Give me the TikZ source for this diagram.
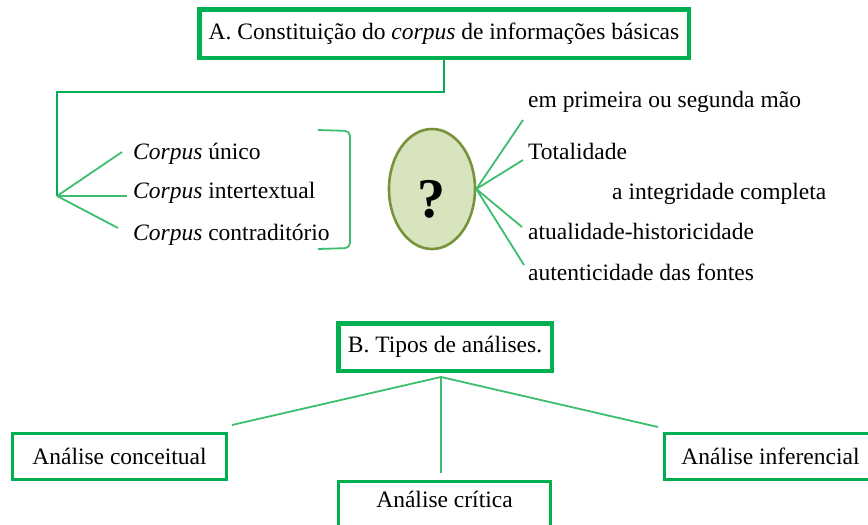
\documentclass[tikz,border=0pt]{standalone}
\usepackage{fontspec}
\setmainfont{Liberation Serif}
\usetikzlibrary{shapes.geometric,calc}
\definecolor{boxgreen}{RGB}{0,176,80}
\definecolor{linegreen}{RGB}{60,190,110}
\definecolor{ovalfill}{RGB}{215,228,189}
\definecolor{ovaldraw}{RGB}{119,147,60}
\begin{document}
\begin{tikzpicture}[x=1pt,y=-1pt,
  txt/.style={font=\fontsize{23.5}{28}\selectfont, inner sep=0pt, text=black},
  bigbox/.style={draw=boxgreen, line width=4.5pt, fill=white, txt},
  smallbox/.style={draw=boxgreen, line width=3pt, fill=white, txt},
  conn/.style={draw=linegreen, line width=1.8pt},
  topconn/.style={draw=boxgreen, line width=1.4pt},
  item/.style={txt, anchor=base west}
]
\useasboundingbox (0,0) rectangle (868,525);
\clip (0,0) rectangle (868,525);
\fill[white] (0,0) rectangle (868,525);

% Box A
\node[bigbox, minimum width=489.5pt, minimum height=48.5pt] (A) at (444,33.5)
  {A. Constituição do \textit{corpus} de informações básicas};

% corpus list
\coordinate (jA) at (57,196);
\draw[topconn] (A.south) -- ++(0,32) -| (jA);
\node[item] (c1) at (133,159) {\textit{Corpus} único};
\node[item] (c2) at (133,198) {\textit{Corpus} intertextual};
\node[item] (c3) at (133,240) {\textit{Corpus} contraditório};
\coordinate (e1) at (122,152);
\coordinate (e2) at (127,196);
\coordinate (e3) at (118,228);
\draw[conn] (jA) -- (e1);
\draw[conn] (jA) -- (e2);
\draw[conn] (jA) -- (e3);

% bracket
\coordinate (b1) at (318,130);
\coordinate (b2) at (350,131);
\coordinate (b3) at (350,248);
\coordinate (b4) at (318,249);
\draw[conn, rounded corners=5pt] (b1) -- (b2) -- (b3) -- (b4);

% oval
\node[ellipse, draw=ovaldraw, fill=ovalfill, line width=2.6pt, inner sep=0pt,
  minimum width=86pt, minimum height=120pt] (Q) at (432,189) {};
\node[anchor=base, inner sep=0pt, font=\fontsize{56}{56}\selectfont\bfseries] (qm) at (431.5,217) {?};

\node[item] (r1) at (528,107) {em primeira ou segunda mão};
\node[item] (r2) at (528,159) {Totalidade};
\node[item] (r3) at (612,199) {a integridade completa};
\node[item] (r4) at (528,239) {atualidade-historicidade};
\node[item] (r5) at (528,280) {autenticidade das fontes};
\coordinate (f1) at (523,120);
\coordinate (f2) at (523,160);
\coordinate (f3) at (522,227);
\coordinate (f4) at (524,265);
\draw[conn] (Q.east) -- (f1);
\draw[conn] (Q.east) -- (f2);
\draw[conn] (Q.east) -- (f3);
\draw[conn] (Q.east) -- (f4);

% Box B
\node[bigbox, minimum width=213.5pt, minimum height=47.5pt] (B) at (445,347)
  {B. Tipos de análises.};
\node[smallbox, minimum width=214pt, minimum height=46pt] (B1) at (119.5,456.5)
  {Análise conceitual};
\node[smallbox, minimum width=212pt, minimum height=46pt] (B3) at (770.5,456.5)
  {Análise inferencial};
\node[smallbox, minimum width=212pt, minimum height=57pt, text height=10pt, text depth=16pt] (B2) at (444.5,510)
  {Análise crítica};
\coordinate (jB) at (441,377);
\coordinate (g1) at (232,425);
\coordinate (g2) at (441,473);
\coordinate (g3) at (658,427);
\draw[conn] (jB) -- (g1);
\draw[conn, line width=1.2pt] (jB) -- (g2);
\draw[conn] (jB) -- (g3);
\end{tikzpicture}
\end{document}
